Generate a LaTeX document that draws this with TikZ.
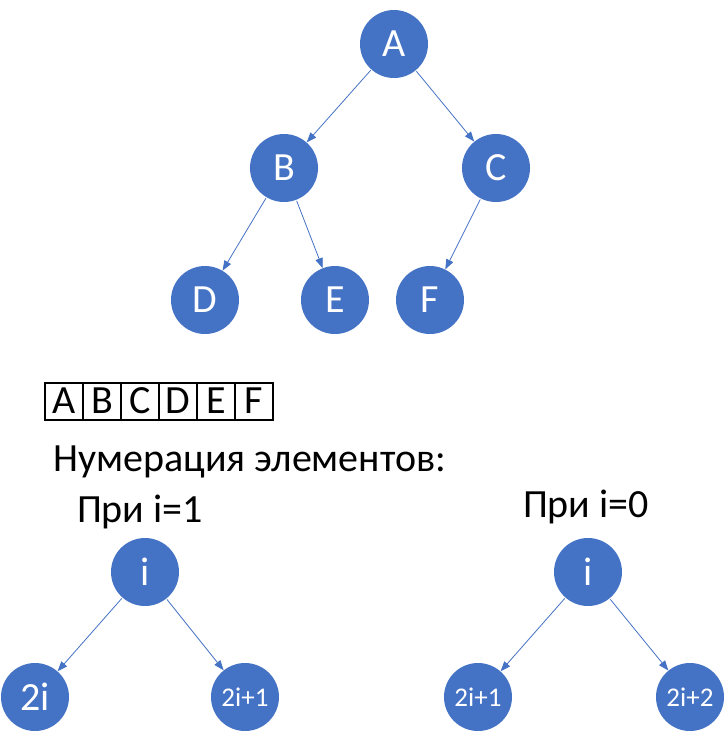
\documentclass[tikz,border=0pt]{standalone}
\usepackage{fontspec}
\setmainfont{Carlito}
\usetikzlibrary{arrows.meta}
\definecolor{oBlue}{HTML}{4472C4}

\begin{document}
\begin{tikzpicture}[x=1pt, y=-1pt,
  vert/.style={circle, fill=oBlue, text=white, minimum size=68pt, inner sep=0pt, font=\fontsize{40}{40}\selectfont},
  svert/.style={vert, font=\fontsize{27}{27}\selectfont},
  ed/.style={oBlue, line width=0.8pt, -{Triangle[length=10pt, width=7.5pt]}, shorten <=1pt},
  cell/.style={draw, line width=2pt, minimum width=38pt, minimum height=37pt, inner sep=0pt, font=\fontsize{40}{40}\selectfont},
  lbl/.style={font=\fontsize{40}{40}\selectfont},
]
  \useasboundingbox (0,0) rectangle (726,748);
  % upper tree
  \node[vert] (A) at (394,44) {A};
  \node[vert] (B) at (284,168) {B};
  \node[vert] (C) at (496,168) {C};
  \node[vert] (D) at (205,300) {D};
  \node[vert] (E) at (335,300) {E};
  \node[vert] (F) at (430,300) {F};
  \draw[ed] (A)--(B); \draw[ed] (A)--(C);
  \draw[ed] (B)--(D); \draw[ed] (B)--(E);
  \draw[ed] (C)--(F);
  % array
  \foreach \t [count=\k] in {A,B,C,D,E,F}
    \node[cell] (a\k) at (45+38*\k-19,401) {\t};
  \node[lbl, anchor=west] (num) at (50,462) {Нумерация элементов:};
  % i=1
  \node[lbl] (p1) at (140,512) {При i=1};
  \node[vert] (i1) at (145,572) {i};
  \node[vert] (l1) at (35,697) {2i};
  \node[svert] (r1) at (245,697) {2i+1};
  \draw[ed] (i1)--(l1); \draw[ed] (i1)--(r1);
  % i=0
  \node[lbl] (p0) at (586,507) {При i=0};
  \node[vert] (i0) at (588,572) {i};
  \node[svert] (l0) at (478,697) {2i+1};
  \node[svert] (r0) at (690,697) {2i+2};
  \draw[ed] (i0)--(l0); \draw[ed] (i0)--(r0);
\end{tikzpicture}
\end{document}
